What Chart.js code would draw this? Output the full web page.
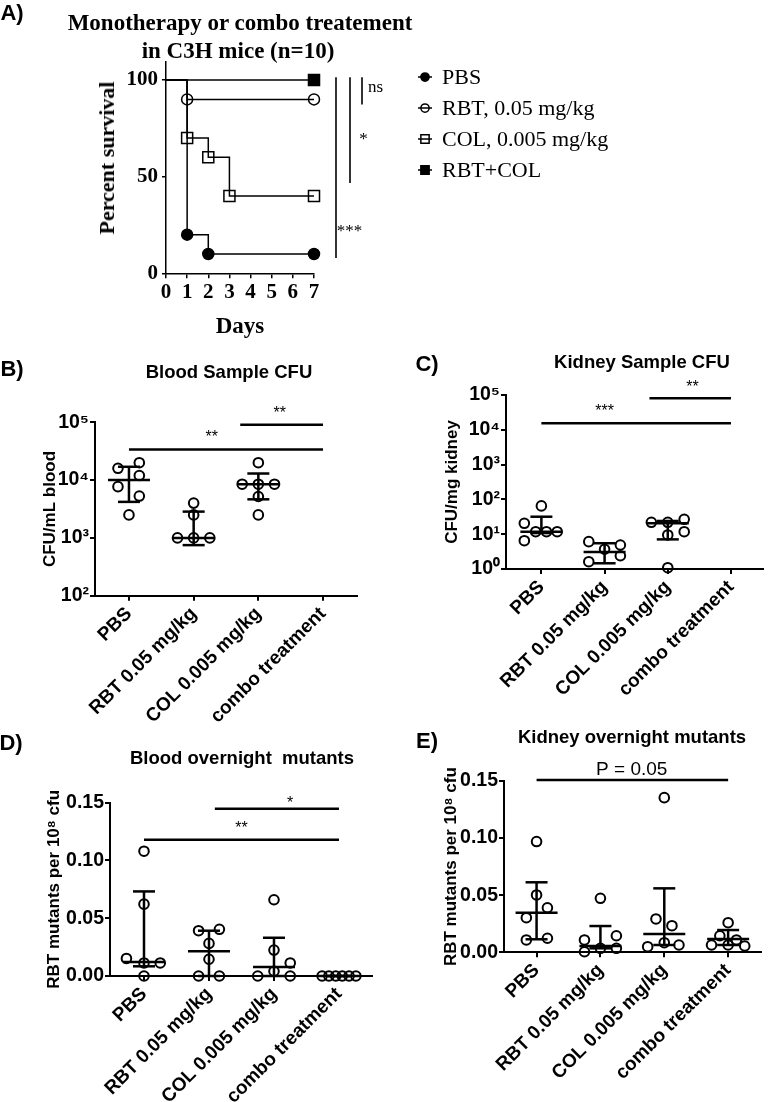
<!DOCTYPE html>
<html>
<head>
<meta charset="utf-8">
<script src="https://cdn.jsdelivr.net/npm/chart.js@4.4.1/dist/chart.umd.min.js"></script>
<style>
  body { margin: 0; background: #fff; }
  #wrap { position: relative; width: 770px; height: 1102px; overflow: hidden; }
  canvas { position: absolute; }
  .t { position: absolute; white-space: pre; color: #000; line-height: 1; transform: translate(-50%, -50%); }
  .sans { font-family: "Liberation Sans", Arial, sans-serif; font-weight: bold; }
  .serif { font-family: "Liberation Serif", "Times New Roman", serif; font-weight: bold; }
</style>
</head>
<body>
<div id="wrap">
  <canvas id="chartA" width="770" height="340" style="left:0;top:0"></canvas>
  <canvas id="chartB" width="385" height="395" style="left:0;top:330px"></canvas>
  <canvas id="chartC" width="385" height="395" style="left:385px;top:330px"></canvas>
  <canvas id="chartD" width="385" height="377" style="left:0;top:725px"></canvas>
  <canvas id="chartE" width="385" height="377" style="left:385px;top:725px"></canvas>

  <div class="t sans" style="left:12px;top:13px;font-size:22px">A)</div>
  <div class="t serif" style="left:240px;top:22px;font-size:23px">Monotherapy or combo treatement</div>
  <div class="t serif" style="left:238px;top:50px;font-size:23px">in C3H mice (n=10)</div>
  <div class="t serif" style="left:107px;top:158px;font-size:22px;transform:translate(-50%,-50%) rotate(-90deg)">Percent survival</div>
  <div class="t serif" style="left:240px;top:325px;font-size:23px">Days</div>

  <div class="t sans" style="left:12px;top:369px;font-size:22px">B)</div>
  <div class="t sans" style="left:229px;top:372px;font-size:18.5px">Blood Sample CFU</div>
  <div class="t sans" style="left:427px;top:364px;font-size:22px">C)</div>
  <div class="t sans" style="left:642px;top:362px;font-size:18.5px">Kidney Sample CFU</div>
  <div class="t sans" style="left:11px;top:743px;font-size:22px">D)</div>
  <div class="t sans" style="left:242px;top:758px;font-size:18.5px">Blood overnight  mutants</div>
  <div class="t sans" style="left:427px;top:741px;font-size:22px">E)</div>
  <div class="t sans" style="left:632px;top:737px;font-size:18.5px">Kidney overnight mutants</div>
</div>
<script>
const SANS = '"Liberation Sans", Arial, sans-serif';
const SERIF = '"Liberation Serif", "Times New Roman", serif';

// ---------- A) survival ----------
const survLabels = ['PBS', 'RBT, 0.05 mg/kg', 'COL, 0.005 mg/kg', 'RBT+COL'];
const survDays = [[0, 1, 2, 7], [0, 1, 7], [0, 1, 2, 3, 7], [0, 7]];
const survPct = [[100, 20, 10, 10], [100, 90, 90], [100, 70, 60, 40, 40], [100, 100]];
const dayTicks = [0, 1, 2, 3, 4, 5, 6, 7];
const survTicks = [0, 50, 100];
// comparisons vs RBT+COL (bar top/bottom in %, label height in %)
const survSigText = ['***', '*', 'ns'];
const survSigTop = [101.5, 101.5, 101.5];
const survSigBottom = [7.9, 46.7, 87.3];
const survSigTextY = [24, 71.5, 95.9];

// ---------- column scatter panels ----------
const groups = ['PBS', 'RBT 0.05 mg/kg', 'COL 0.005 mg/kg', 'combo treatment'];

// B) blood CFU
const bloodCfu = [[2.0e4, 1.6e4, 7.7e3, 1.2e4, 5.3e3, 2.5e3], [4.0e3, 2.5e3, 1.0e3, 1.0e3, 1.0e3], [2.0e4, 8.5e3, 8.5e3, 8.5e3, 5.2e3, 2.5e3], []];
const bloodCfuJit = [[0.16, -0.17, -0.17, 0.16, 0.16, 0], [0, 0, -0.25, 0, 0.25], [0, -0.25, 0, 0.25, 0, 0], []];
const bloodCfuMed = [1.0e4, 1.0e3, 8.5e3, null];
const bloodCfuLo = [4.2e3, 7.5e2, 4.65e3, null];
const bloodCfuHi = [1.7e4, 2.85e3, 1.3e4, null];
const bloodCfuTicks = [1e2, 1e3, 1e4, 1e5];
const bloodSigFrom = [0, 1.72], bloodSigTo = [3, 3], bloodSigY = [3.4e4, 9.1e4];
const bloodSigText = ['**', '**'], bloodSigTextX = [1.28, 2.33], bloodSigTextY = [6.46e4, 1.7e5];

// C) kidney CFU
const kidCfu = [[65, 20.6, 6.5, 11.8, 11.8, 11.8], [6.1, 4.9, 3.7, 1.62, 2.4], [22, 22, 26.8, 11.8, 9.5, 1.09], []];
const kidCfuJit = [[0, -0.27, -0.27, -0.09, 0.08, 0.25], [-0.25, 0.25, 0, -0.25, 0.25], [-0.26, 0, 0.26, 0.26, 0, 0], []];
const kidCfuMed = [11.8, 3.1, 20.6, null];
const kidCfuLo = [10.8, 1.46, 7.1, null];
const kidCfuHi = [31.8, 5.5, 24, null];
const kidCfuTicks = [1, 10, 100, 1e3, 1e4, 1e5];
const kidSigFrom = [0, 1.71], kidSigTo = [3, 3], kidSigY = [1.53e4, 8.0e4];
const kidSigText = ['***', '**'], kidSigTextX = [1.0, 2.39], kidSigTextY = [4.5e4, 2.2e5];

// D) blood overnight mutants
const bloodMut = [[0.108, 0.0622, 0.0152, 0.0113, 0.0113, 0], [0.0392, 0.0404, 0.0282, 0.0145, 0, 0], [0.066, 0.0224, 0.0113, 0.0041, 0, 0], [0, 0, 0, 0, 0, 0]];
const bloodMutJit = [[0, 0, -0.27, 0, 0.25, 0], [-0.16, 0.16, 0, 0, -0.16, 0.16], [0, 0, 0.25, 0, -0.25, 0.25], [-0.26, -0.155, -0.05, 0.05, 0.155, 0.26]];
const bloodMutMed = [0.0122, 0.0215, 0.0078, 0];
const bloodMutLo = [0.0084, 0, 0, 0];
const bloodMutHi = [0.0732, 0.0392, 0.0331, 0];
const mutTicks = [0, 0.05, 0.10, 0.15];
const bloodMutSigFrom = [1.09, 0], bloodMutSigTo = [3, 3], bloodMutSigY = [0.1448, 0.118];
const bloodMutSigText = ['*', '**'], bloodMutSigTextX = [2.25, 1.5], bloodMutSigTextY = [0.1537, 0.1321];

// E) kidney overnight mutants
const kidMut = [[0.097, 0.0502, 0.039, 0.0303, 0.0108, 0.0123], [0.0473, 0.0108, 0.0145, 0.0035, 0.0005, 0.0035], [0.1354, 0.0292, 0.0233, 0.0049, 0.0084, 0.0064], [0.0259, 0.0145, 0.0108, 0.0064, 0.0064, 0.0055]];
const kidMutJit = [[0, 0, 0.17, -0.16, -0.16, 0.17], [0, -0.25, 0.25, 0.25, -0.25, 0], [0, -0.13, 0.12, -0.26, 0, 0.23], [0, -0.13, 0.13, -0.26, 0, 0.26]];
const kidMutMed = [0.0347, 0.0055, 0.016, 0.0116];
const kidMutLo = [0.0114, 0.0035, 0.0064, 0.0064];
const kidMutHi = [0.0613, 0.023, 0.056, 0.0195];
const kidMutSigFrom = [0], kidMutSigTo = [3], kidMutSigY = [0.1509];
const kidMutSigText = ['P = 0.05'], kidMutSigTextX = [1.49], kidMutSigTextY = [0.1611];

const sup = ['\u2070', '\u00b9', '\u00b2', '\u00b3', '\u2074', '\u2075'];
const powTen = v => '10' + sup[Math.round(Math.log10(v))];

function line(ctx, x1, y1, x2, y2) {
  ctx.beginPath(); ctx.moveTo(x1, y1); ctx.lineTo(x2, y2); ctx.stroke();
}

// ---------- A ----------
const markStyle = [
  { style: 'circle', fill: '#000', r: 5.5 },
  { style: 'circle', fill: 'rgba(0,0,0,0)', r: 5.5 },
  { style: 'rect', fill: 'rgba(0,0,0,0)', r: 7.8 },
  { style: 'rect', fill: '#000', r: 7.8 }
];

const survExtras = {
  id: 'survExtras',
  afterDraw(chart) {
    const { ctx, chartArea, scales: { y } } = chart;
    ctx.save();
    ctx.strokeStyle = '#000';
    ctx.fillStyle = '#000';
    ctx.lineWidth = 1.6;
    // significance bars to the right of the plot
    const offs = [22, 36, 48];
    survSigText.forEach((t, i) => {
      const x0 = chartArea.right + offs[i];
      line(ctx, x0, y.getPixelForValue(survSigTop[i]), x0, y.getPixelForValue(survSigBottom[i]));
      ctx.font = '17px ' + SERIF;
      ctx.textAlign = 'center';
      ctx.textBaseline = 'alphabetic';
      const star = t.startsWith('*');
      ctx.fillText(t, x0 + 13.5, y.getPixelForValue(survSigTextY[i]) + (star ? 0.55 : 0.23) * 17);
    });
    // legend
    chart.data.datasets.forEach((ds, i) => {
      const ly = 77 + 31 * i;
      ctx.lineWidth = 1.5;
      ctx.strokeStyle = '#000';
      line(ctx, 418, ly, 432, ly);
      ctx.fillStyle = markStyle[i].fill;
      Chart.helpers.drawPoint(ctx, { pointStyle: markStyle[i].style, radius: markStyle[i].r * 0.75, borderWidth: 1.5 }, 425, ly);
      ctx.fillStyle = '#000';
      ctx.font = '22px ' + SERIF;
      ctx.textAlign = 'left';
      ctx.textBaseline = 'middle';
      ctx.fillText(ds.label, 442, ly + 1);
    });
    ctx.restore();
  }
};

new Chart(document.getElementById('chartA'), {
  type: 'line',
  data: {
    datasets: survLabels.map((lab, i) => ({
      label: lab,
      data: survDays[i].map((d, k) => ({ x: d, y: survPct[i][k] })),
      stepped: true,
      borderColor: '#000',
      borderWidth: 1.5,
      fill: false,
      clip: false,
      pointStyle: markStyle[i].style,
      pointRadius: survDays[i].map(d => d === 0 ? 0 : markStyle[i].r),
      pointBackgroundColor: markStyle[i].fill,
      pointBorderColor: '#000',
      pointBorderWidth: 1.5
    }))
  },
  options: {
    responsive: false,
    animation: false,
    layout: { padding: { left: 0, top: 61.7, right: 456, bottom: 0 } },
    plugins: { legend: { display: false }, tooltip: { enabled: false } },
    scales: {
      x: {
        type: 'linear', min: 0, max: 7,
        afterBuildTicks: s => { s.ticks = dayTicks.map(v => ({ value: v })); },
        afterFit: s => { s.height = 66.7; },
        ticks: { font: { family: SERIF, size: 21, weight: 'bold' }, color: '#000', padding: 2, maxRotation: 0 },
        grid: { display: true, drawOnChartArea: false, drawTicks: true, tickLength: 5, color: '#000', lineWidth: 1.5 },
        border: { display: true, color: '#000', width: 1.5 }
      },
      y: {
        type: 'linear', min: 0, max: 109.5,
        afterBuildTicks: s => { s.ticks = survTicks.map(v => ({ value: v })); },
        afterFit: s => { s.width = 166; },
        ticks: { font: { family: SERIF, size: 21, weight: 'bold' }, color: '#000', padding: 4 },
        grid: { display: true, drawOnChartArea: false, drawTicks: true, tickLength: 4, color: '#000', lineWidth: 1.5 },
        border: { display: true, color: '#000', width: 1.5 }
      }
    }
  },
  plugins: [survExtras]
});

// ---------- column scatter with median / IQR ----------
function statsPlugin(o) {
  return {
    id: 'stats',
    beforeDatasetsDraw(chart) {
      const { ctx, scales: { x, y } } = chart;
      ctx.save();
      ctx.strokeStyle = '#000';
      ctx.fillStyle = '#000';
      ctx.lineWidth = 2.5;
      o.med.forEach((m, g) => {
        if (m == null) return;
        const cx = x.getPixelForValue(g);
        const ym = y.getPixelForValue(m), yl = y.getPixelForValue(o.lo[g]), yh = y.getPixelForValue(o.hi[g]);
        line(ctx, cx, yl, cx, yh);
        line(ctx, cx - 11, yl, cx + 11, yl);
        line(ctx, cx - 11, yh, cx + 11, yh);
        line(ctx, cx - 21, ym, cx + 21, ym);
      });
      o.sigFrom.forEach((f, i) => {
        const y0 = y.getPixelForValue(o.sigY[i]);
        line(ctx, x.getPixelForValue(f), y0, x.getPixelForValue(o.sigTo[i]), y0);
        const star = o.sigText[i].startsWith('*');
        const size = star ? 16 : 19;
        ctx.font = size + 'px ' + SANS;
        ctx.textAlign = 'center';
        ctx.textBaseline = 'alphabetic';
        ctx.fillText(o.sigText[i], x.getPixelForValue(o.sigTextX[i]), y.getPixelForValue(o.sigTextY[i]) + (star ? 0.57 : 0.36) * size);
      });
      ctx.restore();
    }
  };
}

function columnChart(id, o) {
  const pts = [];
  o.values.forEach((vals, g) => vals.forEach((v, k) => pts.push({ x: g + o.jit[g][k], y: v })));
  return new Chart(document.getElementById(id), {
    type: 'scatter',
    data: {
      datasets: [{
        data: pts,
        pointStyle: 'circle',
        pointRadius: 4.8,
        pointBorderWidth: 2,
        pointBorderColor: '#000',
        pointBackgroundColor: 'rgba(0,0,0,0)',
        clip: false
      }]
    },
    options: {
      responsive: false,
      animation: false,
      layout: { padding: o.pad },
      plugins: { legend: { display: false }, tooltip: { enabled: false } },
      scales: {
        x: {
          type: 'linear', min: o.xMin, max: o.xMax,
          afterBuildTicks: s => { s.ticks = groups.map((g, i) => ({ value: i })); },
          afterFit: s => { s.height = o.xH; },
          ticks: { callback: v => groups[v], autoSkip: false, minRotation: 45, maxRotation: 45, font: { family: SANS, size: 19, weight: 'bold' }, color: '#000', padding: 2 },
          grid: { display: true, drawOnChartArea: false, drawTicks: true, tickLength: 5, color: '#000', lineWidth: 2 },
          border: { display: true, color: '#000', width: 2 }
        },
        y: {
          type: o.log ? 'logarithmic' : 'linear', min: o.yMin, max: o.yMax,
          afterBuildTicks: s => { s.ticks = o.ticks.map(v => ({ value: v })); },
          afterFit: s => { s.width = o.yW; },
          ticks: { callback: o.fmt, font: { family: SANS, size: 19.5, weight: 'bold' }, color: '#000', padding: 1 },
          title: { display: true, text: o.yTitle, color: '#000', font: { family: SANS, size: 17, weight: 'bold' }, padding: { top: o.titlePad, bottom: 0 } },
          grid: { display: true, drawOnChartArea: false, drawTicks: true, tickLength: 5, color: '#000', lineWidth: 2 },
          border: { display: true, color: '#000', width: 2 }
        }
      }
    },
    plugins: [statsPlugin(o)]
  });
}

columnChart('chartB', {
  values: bloodCfu, jit: bloodCfuJit, med: bloodCfuMed, lo: bloodCfuLo, hi: bloodCfuHi,
  sigFrom: bloodSigFrom, sigTo: bloodSigTo, sigY: bloodSigY, sigText: bloodSigText, sigTextX: bloodSigTextX, sigTextY: bloodSigTextY,
  log: true, yMin: 1e2, yMax: 1e5, ticks: bloodCfuTicks, fmt: powTen, yTitle: 'CFU/mL blood',
  xMin: -0.525, xMax: 3.525, pad: { left: 0, top: 92.3, right: 28, bottom: 0 }, yW: 95, xH: 129.3, titlePad: 39.8
});

columnChart('chartC', {
  values: kidCfu, jit: kidCfuJit, med: kidCfuMed, lo: kidCfuLo, hi: kidCfuHi,
  sigFrom: kidSigFrom, sigTo: kidSigTo, sigY: kidSigY, sigText: kidSigText, sigTextX: kidSigTextX, sigTextY: kidSigTextY,
  log: true, yMin: 1, yMax: 1e5, ticks: kidCfuTicks, fmt: powTen, yTitle: 'CFU/mg kidney',
  xMin: -0.56, xMax: 3.51, pad: { left: 0, top: 65, right: 0, bottom: 0 }, yW: 121, xH: 156, titlePad: 56.8
});

columnChart('chartD', {
  values: bloodMut, jit: bloodMutJit, med: bloodMutMed, lo: bloodMutLo, hi: bloodMutHi,
  sigFrom: bloodMutSigFrom, sigTo: bloodMutSigTo, sigY: bloodMutSigY, sigText: bloodMutSigText, sigTextX: bloodMutSigTextX, sigTextY: bloodMutSigTextY,
  log: false, yMin: 0, yMax: 0.15, ticks: mutTicks, fmt: v => v.toFixed(2), yTitle: 'RBT mutants per 10\u2078 cfu',
  xMin: -0.523, xMax: 3.508, pad: { left: 0, top: 77.7, right: 13, bottom: 0 }, yW: 110, xH: 126, titlePad: 43.8
});

columnChart('chartE', {
  values: kidMut, jit: kidMutJit, med: kidMutMed, lo: kidMutLo, hi: kidMutHi,
  sigFrom: kidMutSigFrom, sigTo: kidMutSigTo, sigY: kidMutSigY, sigText: kidMutSigText, sigTextX: kidMutSigTextX, sigTextY: kidMutSigTextY,
  log: false, yMin: 0, yMax: 0.15, ticks: mutTicks, fmt: v => v.toFixed(2), yTitle: 'RBT mutants per 10\u2078 cfu',
  xMin: -0.51, xMax: 3.51, pad: { left: 0, top: 56, right: 9.3, bottom: 0 }, yW: 119, xH: 149.7, titlePad: 56.5
});
</script>
</body>
</html>
